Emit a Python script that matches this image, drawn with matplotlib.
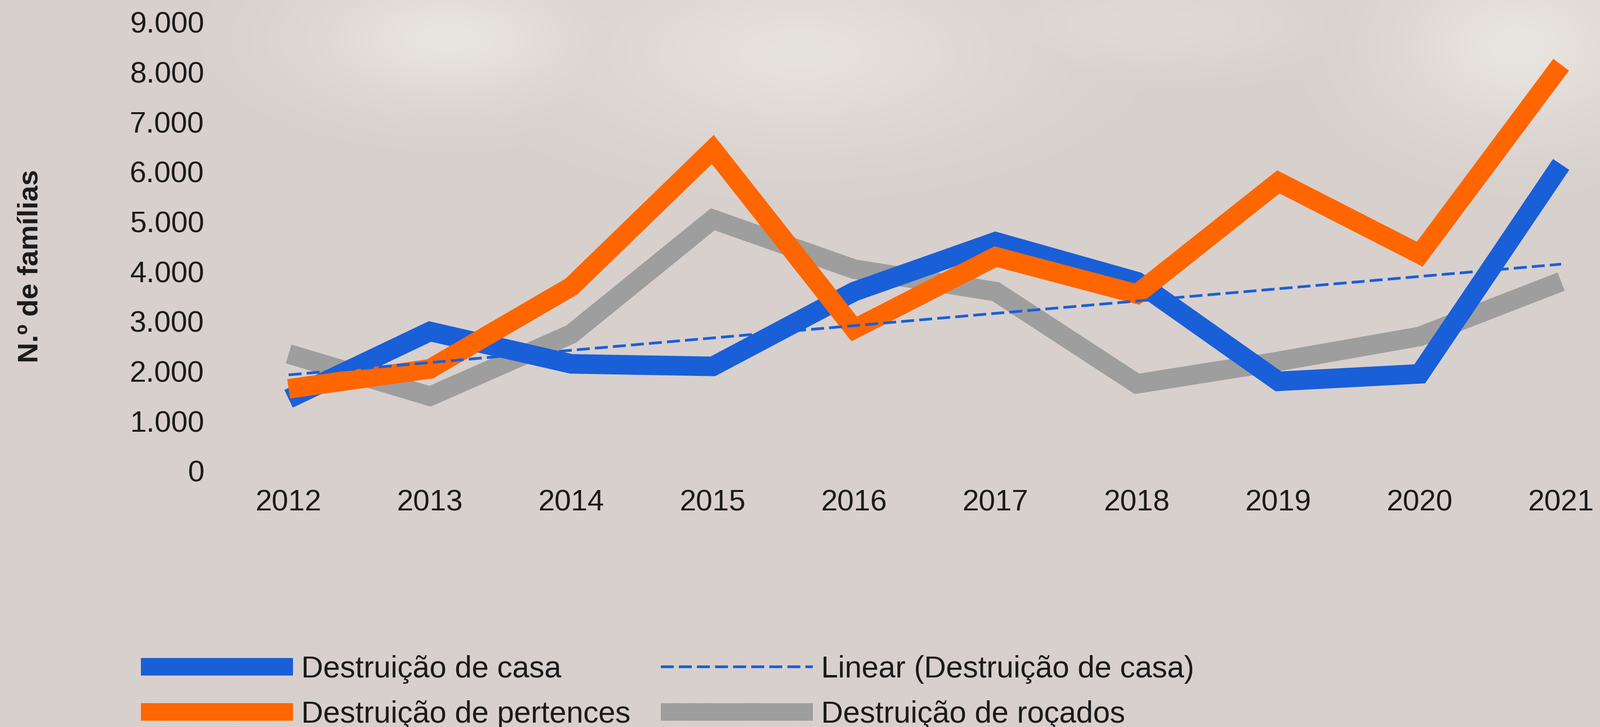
"""
Famílias afetadas por destruição (casa, pertences, roçados), 2012-2021.
Line chart with linear trend of "Destruição de casa".
"""
import matplotlib

matplotlib.use("Agg")
import matplotlib.pyplot as plt
import numpy as np
from matplotlib.lines import Line2D
from matplotlib.ticker import FuncFormatter

years = [2012, 2013, 2014, 2015, 2016, 2017, 2018, 2019, 2020, 2021]
casa = [1450, 2800, 2150, 2100, 3600, 4600, 3800, 1800, 1950, 6150]
pertences = [1650, 2050, 3700, 6450, 2850, 4300, 3550, 5800, 4350, 8150]
rocados = [2350, 1500, 2750, 5050, 4050, 3600, 1750, 2200, 2700, 3800]

labels = [
    "Destruição de casa",
    "Destruição de pertences",
    "Linear (Destruição de casa)",
    "Destruição de roçados",
]
y_ticks = [0, 1000, 2000, 3000, 4000, 5000, 6000, 7000, 8000, 9000]

BLUE = "#195fd8"
ORANGE = "#ff6600"
GRAY = "#9e9e9e"
BG = "#d8d0cd"
TEXT = "#1a1a1a"
LW = 29
DASH = (0, (4.8, 1.9))

plt.rcParams["font.family"] = ["Liberation Sans", "DejaVu Sans"]

W, H = 3293, 1497
fig = plt.figure(figsize=(W / 100, H / 100), dpi=100, facecolor=BG)

# soft light patches of the textured background (fractions of the figure)
bg_ax = fig.add_axes([0, 0, 1, 1], zorder=-1)
gx, gy = np.meshgrid(np.linspace(0, 1, 330), np.linspace(0, 1, 150))
light = np.zeros_like(gx)
for cx, cy, rx, ry, a in [(0.28, 0.05, 0.09, 0.09, 0.8), (0.50, 0.07, 0.13, 0.12, 0.7),
                          (0.95, 0.06, 0.08, 0.12, 0.8), (0.72, 0.03, 0.10, 0.06, 0.4)]:
    light = np.maximum(light, a * np.exp(-(((gx - cx) / rx) ** 2 + ((gy - cy) / ry) ** 2)))
base = np.array([216, 208, 205]) / 255
hi = np.array([236, 233, 228]) / 255
img = base + light[..., None] * (hi - base)
bg_ax.imshow(img, extent=(0, 1, 0, 1), origin="upper", aspect="auto", interpolation="bicubic")
bg_ax.set_axis_off()

# plot area: 2012 at x=594, 2021 at x=3213; 0 at y=970, 9000 at y=46 (pixels)
ax = fig.add_axes([594 / W, (H - 970) / H, (3213 - 594) / W, (970 - 46) / H])
ax.set_facecolor("none")

line_kw = dict(linewidth=LW, solid_joinstyle="miter", solid_capstyle="butt", clip_on=False)
ax.plot(years, rocados, color=GRAY, **line_kw)
ax.plot(years, casa, color=BLUE, **line_kw)
ax.plot(years, pertences, color=ORANGE, **line_kw)

# linear trend of "Destruição de casa"
coef = np.polyfit(years, casa, 1)
trend = np.polyval(coef, years)
ax.plot(years, trend, color=BLUE, linewidth=4, linestyle=DASH, clip_on=False)

ax.set_xlim(2012, 2021)
ax.set_ylim(0, 9000)
ax.set_xticks(years)
ax.set_yticks(y_ticks)
ax.yaxis.set_major_formatter(FuncFormatter(lambda v, _: f"{v:,.0f}".replace(",", ".")))
ax.tick_params(axis="both", length=0, labelsize=44, colors=TEXT)
ax.tick_params(axis="y", pad=125)
ax.tick_params(axis="x", pad=27)
for s in ax.spines.values():
    s.set_visible(False)

fig.text(64 / W, 1 - 548 / H, "N.º de famílias", rotation=90, ha="center", va="center",
         fontsize=42, fontweight="bold", color=TEXT)

handles = [
    Line2D([], [], color=BLUE, linewidth=LW - 3, solid_capstyle="butt"),
    Line2D([], [], color=ORANGE, linewidth=LW - 3, solid_capstyle="butt"),
    Line2D([], [], color=BLUE, linewidth=4, linestyle=DASH),
    Line2D([], [], color=GRAY, linewidth=LW - 3, solid_capstyle="butt"),
]
fig.legend(handles, labels, ncol=2, loc="center left", bbox_to_anchor=(290 / W, 72 / H),
           frameon=False, fontsize=45, handlelength=5.0, handletextpad=0.28,
           columnspacing=1.0, labelspacing=0.55, borderpad=0, borderaxespad=0,
           labelcolor=TEXT)

fig.savefig("out.png", dpi=100, facecolor=BG)
